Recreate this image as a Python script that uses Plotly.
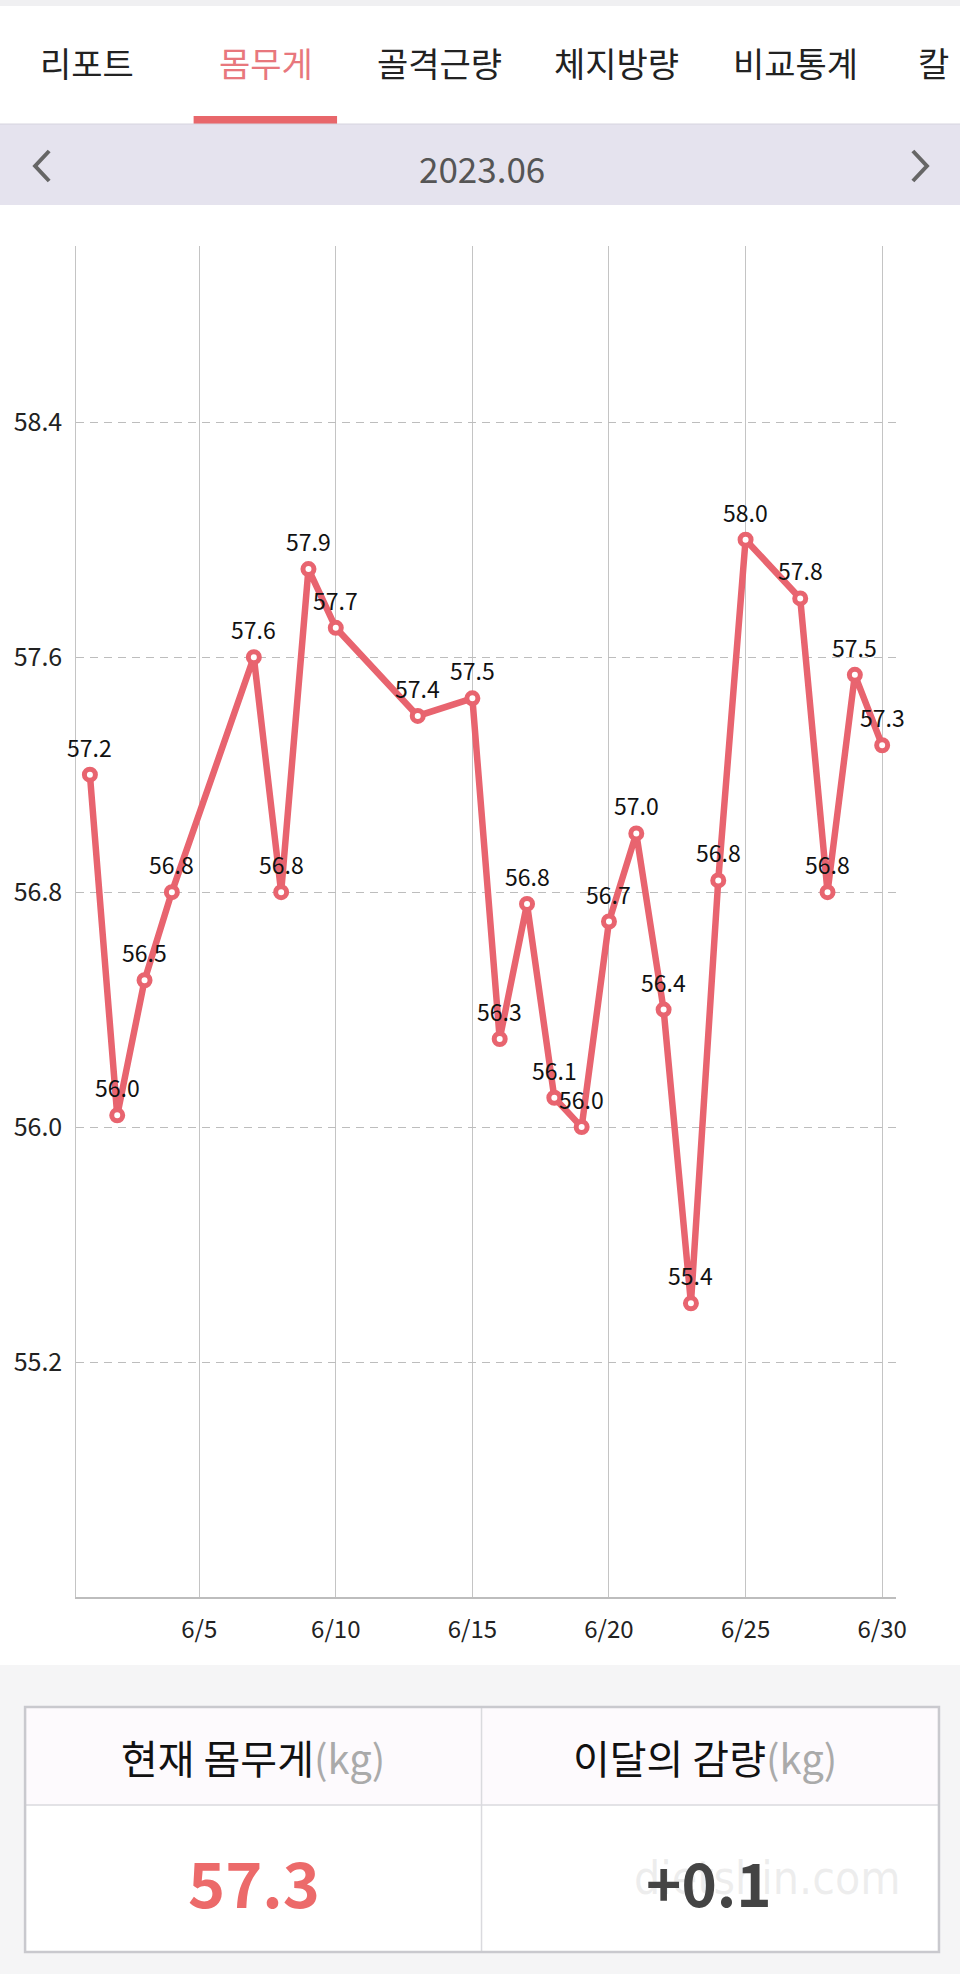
import plotly.graph_objects as go

# ---------------- data ----------------
days = [1, 2, 3, 4, 7, 8, 9, 10, 13, 15, 16, 17, 18, 19, 20, 21, 22, 23, 24, 25, 27, 28, 29, 30]
weights = [57.20, 56.04, 56.50, 56.80, 57.60, 56.80, 57.90, 57.70, 57.40, 57.46, 56.30, 56.76,
           56.10, 56.00, 56.70, 57.00, 56.40, 55.40, 56.84, 58.00, 57.80, 56.80, 57.54, 57.30]
x_tick_vals = [5, 10, 15, 20, 25, 30]
x_tick_text = ["6/5", "6/10", "6/15", "6/20", "6/25", "6/30"]
y_tick_vals = [55.2, 56.0, 56.8, 57.6, 58.4]
y_tick_text = ["55.2", "56.0", "56.8", "57.6", "58.4"]
tabs = ["리포트", "몸무게", "골격근량", "체지방량", "비교통계", "칼로리"]
selected_tab = "몸무게"
month_label = "2023.06"
header_left = "현재 몸무게"
header_right = "이달의 감량"
unit = "(kg)"
watermark = "dietshin.com"

current_weight = f"{weights[-1]:.1f}"
month_change = f"{weights[-1] - weights[0]:+.1f}"

# ---------------- style ----------------
W, H = 960, 1974
EFF_W = 946  # horizontal extent the page actually renders the figure at
PINK = "#E8646F"
FONT = "Noto Sans CJK KR"


def px(x):
    return x / EFF_W


def py(y):
    return 1 - y / H


fig = go.Figure()
fig.add_trace(go.Scatter(
    x=days, y=weights,
    mode="lines+markers",
    line=dict(color=PINK, width=6.5),
    marker=dict(size=11, color="white", line=dict(color=PINK, width=5)),
    cliponaxis=False,
    hoverinfo="skip",
))

shapes = []


def rect(x0, y0, x1, y1, fill, line_color=None, lw=0, layer="below"):
    shapes.append(dict(type="rect", xref="paper", yref="paper",
                       x0=px(x0), x1=px(x1), y0=py(y1), y1=py(y0),
                       fillcolor=fill, layer=layer,
                       line=dict(color=line_color or fill, width=lw)))


def hline(x0, x1, y, color, lw):
    shapes.append(dict(type="line", xref="paper", yref="paper",
                       x0=px(x0), x1=px(x1), y0=py(y), y1=py(y),
                       line=dict(color=color, width=lw)))


def vline(x, y0, y1, color, lw):
    shapes.append(dict(type="line", xref="paper", yref="paper",
                       x0=px(x), x1=px(x), y0=py(y0), y1=py(y1),
                       line=dict(color=color, width=lw)))


# backgrounds
rect(0, 0, W, 6, "#F0F0F2")
rect(0, 6, W, 124, "#FFFFFF")
rect(0, 124, W, 205, "#E5E3EE")
hline(0, W, 124, "#D6D4DE", 1)
rect(193, 116, 336, 124, "#E8676B")
rect(0, 205, W, 1665, "#FFFFFF")
rect(0, 1665, W, H, "#F5F5F6")
# table
rect(25, 1707, 936, 1805, "#FDFAFD")
rect(25, 1805, 936, 1952, "#FFFFFF")
hline(25, 936, 1805, "#DADADE", 1.5)
vline(480, 1707, 1952, "#DADADE", 1.5)
shapes.append(dict(type="rect", xref="paper", yref="paper",
                   x0=px(25), x1=px(936), y0=py(1952), y1=py(1707),
                   line=dict(color="#C9C9CE", width=2.5), layer="above"))


# chevrons
def chevron(pts):
    d = "M " + " L ".join(f"{px(a)},{py(b)}" for a, b in pts)
    shapes.append(dict(type="path", xref="paper", yref="paper", path=d,
                       line=dict(color="#666666", width=4)))


chevron([(49, 151), (35, 166), (49, 181)])
chevron([(910, 151), (924, 166), (910, 181)])

annotations = []

# point value labels, placed at each data point through the axes
for d, w in zip(days, weights):
    annotations.append(dict(x=d, y=w, xref="x", yref="y", text=f"{w:.1f}",
                            showarrow=False, xanchor="center", yanchor="middle",
                            yshift=28,
                            font=dict(family=FONT, size=23, color="#111")))

tab_centers = [87, 265, 438, 615, 793]
for i, t in enumerate(tabs):
    col = "#E8777D" if t == selected_tab else "#222222"
    if i < len(tab_centers):
        annotations.append(dict(x=px(tab_centers[i]), y=py(63), xref="paper", yref="paper",
                                text=t, showarrow=False, xanchor="center", yanchor="middle",
                                font=dict(family=FONT, size=34, color=col)))
    else:
        # last tab runs off the screen edge: clip it with a fixed-width box
        annotations.append(dict(x=px(914), y=py(63), xref="paper", yref="paper",
                                text=t, showarrow=False, xanchor="left", yanchor="middle",
                                width=EFF_W - 914, align="left", borderpad=0,
                                font=dict(family=FONT, size=34, color=col)))

annotations.append(dict(x=px(480), y=py(167), xref="paper", yref="paper", text=month_label,
                        showarrow=False, xanchor="center", yanchor="middle",
                        font=dict(family=FONT, size=35, color="#555555")))

unit_span = f"<span style='color:#AAAAAA'>{unit}</span>"
annotations.append(dict(x=px(252), y=py(1757), xref="paper", yref="paper",
                        text=header_left + unit_span, showarrow=False,
                        xanchor="center", yanchor="middle",
                        font=dict(family=FONT, size=40, color="#111")))
annotations.append(dict(x=px(703), y=py(1757), xref="paper", yref="paper",
                        text=header_right + unit_span, showarrow=False,
                        xanchor="center", yanchor="middle",
                        font=dict(family=FONT, size=40, color="#111")))
# faint site watermark
annotations.append(dict(x=px(765), y=py(1878), xref="paper", yref="paper",
                        text=watermark, showarrow=False,
                        xanchor="center", yanchor="middle",
                        font=dict(family="DejaVu Sans Condensed, Liberation Sans", size=46,
                                  color="rgba(205,205,205,0.35)")))
annotations.append(dict(x=px(253), y=py(1880), xref="paper", yref="paper",
                        text=f"<b>{current_weight}</b>", showarrow=False,
                        xanchor="center", yanchor="middle",
                        font=dict(family=FONT, size=63, color="#EC6A6A")))
annotations.append(dict(x=px(707), y=py(1880), xref="paper", yref="paper",
                        text=f"<b>{month_change}</b>", showarrow=False,
                        xanchor="center", yanchor="middle",
                        font=dict(family=FONT, size=60, color="#444444")))

fig.update_layout(
    width=W, height=H,
    autosize=False,
    margin=dict(l=0, r=0, t=0, b=0),
    paper_bgcolor="white",
    plot_bgcolor="rgba(0,0,0,0)",
    showlegend=False,
    shapes=shapes,
    annotations=annotations,
    xaxis=dict(
        domain=[px(76), px(893)],
        range=[0.5, 30.5],
        tickmode="array", tickvals=x_tick_vals, ticktext=x_tick_text,
        showgrid=True, gridcolor="#C4C4C4", gridwidth=1,
        showline=True, linecolor="#BDBDBD", linewidth=2,
        zeroline=False, ticks="",
        ticklabelstandoff=10,
        tickfont=dict(family=FONT, size=24, color="#222"),
        fixedrange=True,
    ),
    yaxis=dict(
        domain=[py(1597), py(246)],
        range=[54.4, 59.0],
        tickmode="array", tickvals=y_tick_vals, ticktext=y_tick_text,
        showgrid=True, gridcolor="#BDBDBD", gridwidth=1, griddash="8px,6px",
        showline=True, linecolor="#C4C4C4", linewidth=1,
        zeroline=False, ticks="",
        ticklabelstandoff=8,
        tickfont=dict(family=FONT, size=25, color="#222"),
        fixedrange=True,
    ),
)

fig.write_html("out.html", config={"responsive": False, "displayModeBar": False})
